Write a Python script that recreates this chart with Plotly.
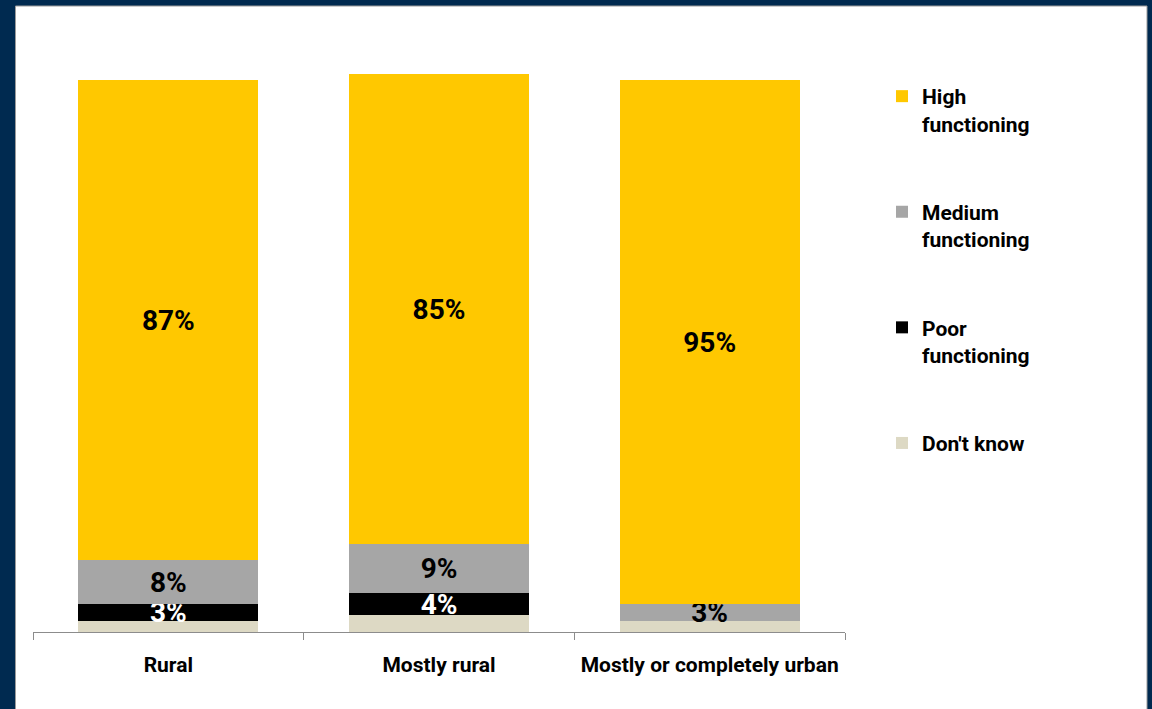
import plotly.graph_objects as go

categories = ["Rural", "Mostly rural", "Mostly or completely urban"]
series_names = ["Don't know", "Poor<br>functioning", "Medium<br>functioning", "High<br>functioning"]
dont_know = [2, 3, 2]
poor = [3, 4, 0]
medium = [8, 9, 3]
high = [87, 85, 95]

colors = ["#DDD9C4", "#000000", "#A6A6A6", "#FFC800"]
text_colors = ["#000000", "#FFFFFF", "#000000", "#000000"]
show_labels = [False, True, True, True]
legend_ranks = [4, 3, 2, 1]

W, H = 1152, 709
L, R, T, B = 33, 845, 25, 632  # plot area pixel bounds
FONT = "Roboto, Arial, sans-serif"

def px2x(px):
    return (px - L) / (R - L)

def py2y(py):
    return (B - py) / (B - T)

fig = go.Figure()
for i, (name, vals) in enumerate(zip(series_names, [dont_know, poor, medium, high])):
    txt = [f"{v}%" if (show_labels[i] and v > 0) else "" for v in vals]
    fig.add_trace(go.Bar(
        x=categories, y=vals, name=name, marker=dict(color=colors[i], line=dict(width=0)),
        text=txt, textposition="inside", insidetextanchor="middle",
        textfont=dict(family=FONT, size=28, color=text_colors[i], weight="bold"),
        legendgroup=f"g{i}", legendrank=legend_ranks[i], width=0.665,
    ))

fig.update_layout(
    width=W, height=H,
    barmode="stack",
    paper_bgcolor="#002A50",
    plot_bgcolor="rgba(0,0,0,0)",
    margin=dict(l=L, r=W - R, t=T, b=H - B, autoexpand=False),
    uniformtext=dict(minsize=28, mode="show"),
    showlegend=True,
    legend=dict(
        x=px2x(882), y=py2y(76), xanchor="left", yanchor="top",
        traceorder="grouped", tracegroupgap=58, valign="top",
        font=dict(family=FONT, size=21, color="#000000", weight="bold"),
        bgcolor="rgba(0,0,0,0)", itemwidth=30,
    ),
    xaxis=dict(
        showline=True, linecolor="#8C8C8C", linewidth=1,
        ticks="outside", tickson="boundaries", ticklen=7, tickcolor="#8C8C8C",
        tickfont=dict(family=FONT, size=21, color="#000000", weight="bold"),
        tickangle=0, ticklabelstandoff=14,
        showgrid=False, zeroline=False,
    ),
    yaxis=dict(range=[0, (B - T) / 5.52], visible=False, showgrid=False, zeroline=False),
    shapes=[
        dict(type="rect", xref="paper", yref="paper", layer="below",
             x0=px2x(15.5), x1=px2x(1147), y0=py2y(712), y1=py2y(6),
             fillcolor="#FFFFFF", line=dict(color="#9A9A9A", width=1)),
    ],
)

fig.write_html("out.html", config={"displayModeBar": False},
               post_script="document.body.style.margin='0';document.body.style.padding='0';")
